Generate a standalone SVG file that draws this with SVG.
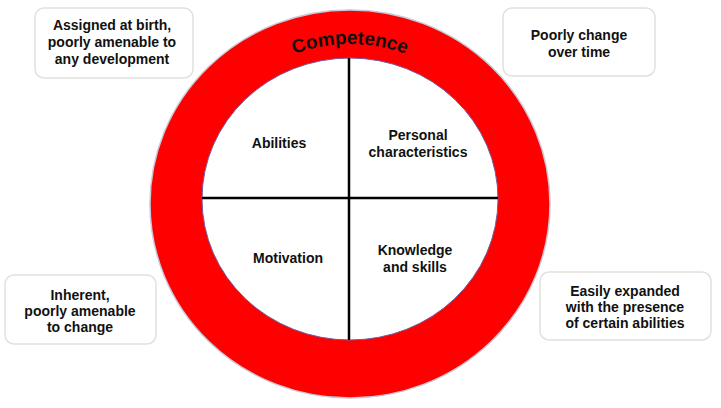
<svg xmlns="http://www.w3.org/2000/svg" width="721" height="408" viewBox="0 0 721 408">
<style>
.box{fill:#fff;stroke:#e2e2dc;stroke-width:1.5}
text{font-family:"Liberation Sans",Arial,sans-serif;font-weight:bold;font-size:14px;fill:#111;text-anchor:middle}
</style>
<defs><path id="arc" d="M190,204 A160,160 0 0 1 510,204"/></defs>
<rect width="721" height="408" fill="#fff"/>
<g id="ring">
<ellipse cx="350" cy="204" rx="200" ry="194" fill="#ff0000" stroke="#c8c8d8" stroke-width="1.5"/>
<ellipse cx="350" cy="199" rx="148" ry="141" fill="#fff" stroke="#7060a0" stroke-width="1"/>
<text style="font-size:19px" fill="#1a0000"><textPath href="#arc" startOffset="50%">Competence</textPath></text>
</g>
<g id="connectors" stroke="#000" stroke-width="2.5">
<line x1="349" y1="58" x2="349" y2="340"/>
<line x1="202" y1="198" x2="498" y2="198"/>
</g>
<g id="q1"><text x="279" y="148">Abilities</text></g>
<g id="q2"><text x="418" y="140">Personal</text><text x="418" y="157">characteristics</text></g>
<g id="q3"><text x="288" y="263">Motivation</text></g>
<g id="q4"><text x="415" y="255">Knowledge</text><text x="415" y="272">and skills</text></g>
<g id="b1"><rect class="box" x="35" y="8" width="158" height="70" rx="9"/><text x="112" y="30">Assigned at birth,</text><text x="112" y="47">poorly amenable to</text><text x="112" y="64">any development</text></g>
<g id="b2"><rect class="box" x="503" y="8" width="152" height="68" rx="9"/><text x="579" y="40">Poorly change</text><text x="579" y="57">over time</text></g>
<g id="b3"><rect class="box" x="5" y="275" width="151" height="69" rx="9"/><text x="80" y="300">Inherent,</text><text x="80" y="316">poorly amenable</text><text x="80" y="332">to change</text></g>
<g id="b4"><rect class="box" x="540" y="272" width="171" height="68" rx="9"/><text x="625" y="296">Easily expanded</text><text x="625" y="312">with the presence</text><text x="625" y="328">of certain abilities</text></g>
</svg>
